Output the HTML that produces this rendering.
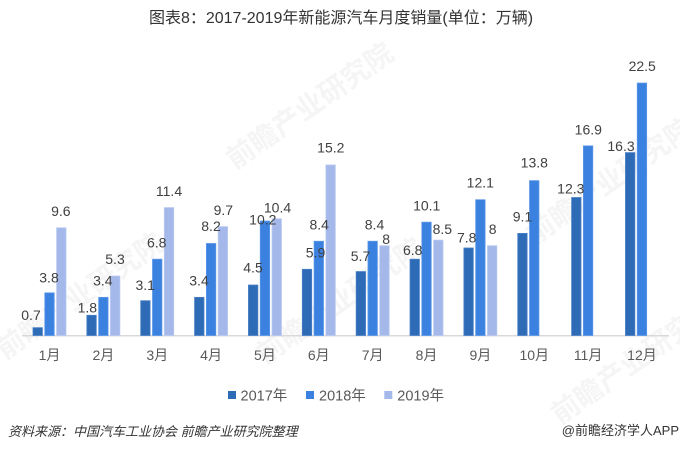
<!DOCTYPE html>
<html><head><meta charset="utf-8"><style>
html,body{margin:0;padding:0;background:#fff;}
svg{display:block;}
text{font-family:"Liberation Sans","Noto Sans CJK SC",sans-serif;}
</style></head><body>
<svg width="680" height="451" viewBox="0 0 680 451" xmlns="http://www.w3.org/2000/svg">
<rect width="680" height="451" fill="#fff"/>
<!-- watermarks -->
<g fill="#f5f5f5" font-size="28" font-weight="bold">
<text transform="translate(5,360) rotate(-35)">前瞻产业研究院</text>
<text transform="translate(235,170) rotate(-35)">前瞻产业研究院</text>
<text transform="translate(265,365) rotate(-35)">前瞻产业研究院</text>
<text transform="translate(535,245) rotate(-35)">前瞻产业研究院</text>
<text transform="translate(560,425) rotate(-35)">前瞻产业研究院</text>
</g>
<!-- title -->
<text x="341" y="23" font-size="16" fill="#333" text-anchor="middle">图表8：2017-2019年新能源汽车月度销量(单位：万辆)</text>
<!-- baseline -->
<rect x="22" y="335" width="647" height="1.5" fill="#d9d9d9"/>
<!-- 2017 bars -->
<g fill="#2e6bb7" stroke="#4a80c6" stroke-width="0.8">
<rect x="33" y="327.65" width="9.4" height="7.85"/>
<rect x="86.86" y="315.30" width="9.4" height="20.20"/>
<rect x="140.72" y="300.72" width="9.4" height="34.78"/>
<rect x="194.58" y="297.35" width="9.4" height="38.15"/>
<rect x="248.44" y="285.01" width="9.4" height="50.49"/>
<rect x="302.3" y="269.30" width="9.4" height="66.20"/>
<rect x="356.16" y="271.55" width="9.4" height="63.95"/>
<rect x="410.02" y="259.20" width="9.4" height="76.30"/>
<rect x="463.88" y="247.98" width="9.4" height="87.52"/>
<rect x="517.74" y="233.40" width="9.4" height="102.10"/>
<rect x="571.6" y="197.49" width="9.4" height="138.01"/>
<rect x="625.46" y="152.61" width="9.4" height="182.89"/>
</g>
<!-- 2018 bars -->
<g fill="#3b82e0" stroke="#5a97e8" stroke-width="0.8">
<rect x="44.8" y="292.86" width="9.4" height="42.64"/>
<rect x="98.66" y="297.35" width="9.4" height="38.15"/>
<rect x="152.52" y="259.20" width="9.4" height="76.30"/>
<rect x="206.38" y="243.50" width="9.4" height="92.00"/>
<rect x="260.24" y="221.06" width="9.4" height="114.44"/>
<rect x="314.1" y="241.25" width="9.4" height="94.25"/>
<rect x="367.96" y="241.25" width="9.4" height="94.25"/>
<rect x="421.82" y="222.18" width="9.4" height="113.32"/>
<rect x="475.68" y="199.74" width="9.4" height="135.76"/>
<rect x="529.54" y="180.66" width="9.4" height="154.84"/>
<rect x="583.4" y="145.88" width="9.4" height="189.62"/>
<rect x="637.26" y="83.05" width="9.4" height="252.45"/>
</g>
<!-- 2019 bars -->
<g fill="#a4b8ea" stroke="#b8c8f0" stroke-width="0.8">
<rect x="56.6" y="227.79" width="9.4" height="107.71"/>
<rect x="110.46" y="276.03" width="9.4" height="59.47"/>
<rect x="164.32" y="207.59" width="9.4" height="127.91"/>
<rect x="218.18" y="226.67" width="9.4" height="108.83"/>
<rect x="272.04" y="218.81" width="9.4" height="116.69"/>
<rect x="325.9" y="164.96" width="9.4" height="170.54"/>
<rect x="379.76" y="245.74" width="9.4" height="89.76"/>
<rect x="433.62" y="240.13" width="9.4" height="95.37"/>
<rect x="487.48" y="245.74" width="9.4" height="89.76"/>
</g>
<!-- value labels -->
<g font-size="14" fill="#404040" text-anchor="middle">
<text x="31" y="320">0.7</text>
<text x="49" y="282.3">3.8</text>
<text x="60.8" y="216">9.6</text>
<text x="87.3" y="312.3">1.8</text>
<text x="102.8" y="285.7">3.4</text>
<text x="115" y="264">5.3</text>
<text x="145.2" y="290">3.1</text>
<text x="156.7" y="247.3">6.8</text>
<text x="169" y="196">11.4</text>
<text x="199" y="285.7">3.4</text>
<text x="211" y="231">8.2</text>
<text x="223.3" y="215">9.7</text>
<text x="253" y="272.7">4.5</text>
<text x="262.8" y="224.3">10.2</text>
<text x="277.5" y="212.3">10.4</text>
<text x="315.5" y="257.3">5.9</text>
<text x="319.2" y="229.3">8.4</text>
<text x="330.8" y="152.3">15.2</text>
<text x="360.5" y="261">5.7</text>
<text x="374.5" y="229.3">8.4</text>
<text x="386.2" y="244">8</text>
<text x="412.7" y="255">6.8</text>
<text x="426.7" y="210.7">10.1</text>
<text x="442.3" y="234">8.5</text>
<text x="466.7" y="242.3">7.8</text>
<text x="480.3" y="187.7">12.1</text>
<text x="492.7" y="234">8</text>
<text x="522.5" y="221.7">9.1</text>
<text x="534.3" y="167.7">13.8</text>
<text x="570.8" y="193.3">12.3</text>
<text x="588.3" y="134.3">16.9</text>
<text x="621" y="151">16.3</text>
<text x="642.2" y="71">22.5</text>
</g>
<!-- month labels -->
<g font-size="14" fill="#595959" text-anchor="middle">
<text x="49.5" y="360">1月</text>
<text x="103.36" y="360">2月</text>
<text x="157.22" y="360">3月</text>
<text x="211.08" y="360">4月</text>
<text x="264.94" y="360">5月</text>
<text x="318.8" y="360">6月</text>
<text x="372.66" y="360">7月</text>
<text x="426.52" y="360">8月</text>
<text x="480.38" y="360">9月</text>
<text x="534.24" y="360">10月</text>
<text x="588.1" y="360">11月</text>
<text x="641.96" y="360">12月</text>
</g>
<!-- legend -->
<rect x="228" y="391" width="8" height="8" fill="#2e6bb7"/>
<text x="240.5" y="400.5" font-size="14.5" fill="#595959">2017年</text>
<rect x="306" y="391" width="8" height="8" fill="#3b82e0"/>
<text x="319" y="400.5" font-size="14.5" fill="#595959">2018年</text>
<rect x="384.3" y="391" width="8" height="8" fill="#a4b8ea"/>
<text x="397.3" y="400.5" font-size="14.5" fill="#595959">2019年</text>
<!-- footer -->
<text x="8" y="436" font-size="13" fill="#333" font-style="italic">资料来源：中国汽车工业协会 前瞻产业研究院整理</text>
<text x="679" y="435" font-size="13" fill="#333" text-anchor="end">@前瞻经济学人APP</text>
</svg>
</body></html>
